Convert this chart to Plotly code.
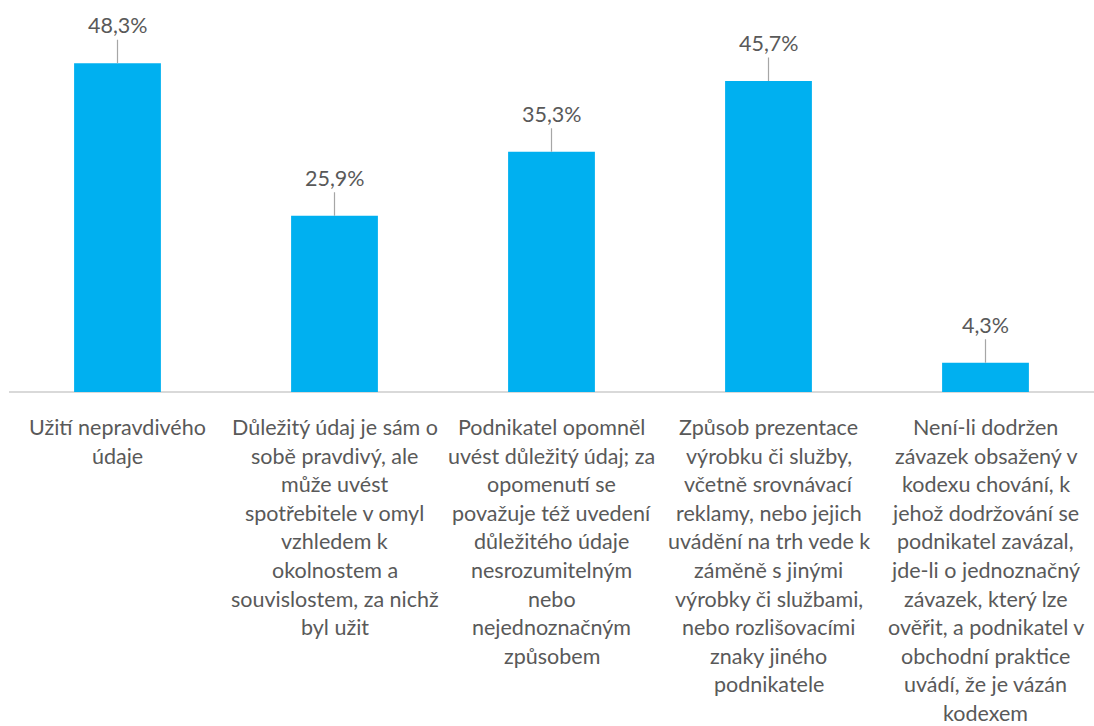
import plotly.graph_objects as go

# Category descriptions, one list of wrapped lines per bar
categories = [
    ["Užití nepravdivého", "údaje"],
    ["Důležitý údaj je sám o", "sobě pravdivý, ale", "může uvést", "spotřebitele v omyl",
     "vzhledem k", "okolnostem a", "souvislostem, za nichž", "byl užit"],
    ["Podnikatel opomněl", "uvést důležitý údaj; za", "opomenutí se", "považuje též uvedení",
     "důležitého údaje", "nesrozumitelným", "nebo", "nejednoznačným", "způsobem"],
    ["Způsob prezentace", "výrobku či služby,", "včetně srovnávací", "reklamy, nebo jejich",
     "uvádění na trh vede k", "záměně s jinými", "výrobky či službami,", "nebo rozlišovacími",
     "znaky jiného", "podnikatele"],
    ["Není-li dodržen", "závazek obsažený v", "kodexu chování, k", "jehož dodržování se",
     "podnikatel zavázal,", "jde-li o jednoznačný", "závazek, který lze", "ověřit, a podnikatel v",
     "obchodní praktice", "uvádí, že je vázán", "kodexem"],
]
values = [48.3, 25.9, 35.3, 45.7, 4.3]
value_labels = ["48,3%", "25,9%", "35,3%", "45,7%", "4,3%"]

FONT = "Lato"
TEXT_COLOR = "#595959"
BAR_COLOR = "#00B0F0"

x_pos = list(range(len(values)))

fig = go.Figure(
    go.Bar(
        x=x_pos,
        y=values,
        marker=dict(color=BAR_COLOR, line=dict(width=0)),
        width=0.4,
        hoverinfo="skip",
    )
)

annotations = []
# Value labels connected to the bars by thin leader lines
for xi, v, lab in zip(x_pos, values, value_labels):
    annotations.append(dict(
        x=xi, y=v, xref="x", yref="y",
        text=lab, showarrow=True, arrowhead=0, arrowwidth=1.2,
        arrowcolor="#A6A6A6", ax=0, ay=-38, standoff=0,
        font=dict(family=FONT, size=21.5, color=TEXT_COLOR),
    ))

# Wrapped category labels beneath the axis
LINE_STEP = 28.6
for xi, lines in zip(x_pos, categories):
    for i, line in enumerate(lines):
        annotations.append(dict(
            x=xi, y=0, xref="x", yref="y",
            text=line, showarrow=False,
            xanchor="center", yanchor="middle",
            yshift=-(35 + LINE_STEP * i),
            font=dict(family=FONT, size=21.5, color=TEXT_COLOR),
        ))

fig.update_layout(
    width=1094, height=726,
    margin=dict(l=9, r=0, t=0, b=334),
    paper_bgcolor="white", plot_bgcolor="white",
    showlegend=False,
    annotations=annotations,
    xaxis=dict(
        range=[-0.5, 4.5], showticklabels=False, showgrid=False, zeroline=False,
        showline=False, ticks="",
    ),
    yaxis=dict(
        range=[0, 57.6], showticklabels=False, showgrid=False,
        zeroline=True, zerolinecolor="#D9D9D9", zerolinewidth=1.5, showline=False,
    ),
)

fig.write_html("out.html")
